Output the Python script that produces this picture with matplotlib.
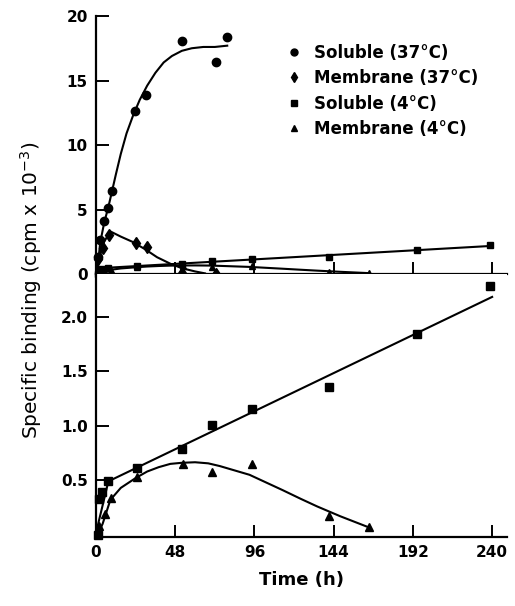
import matplotlib
matplotlib.use("Agg")
import matplotlib.pyplot as plt
from matplotlib.lines import Line2D

plt.rcParams['font.family'] = ['DejaVu Sans']

# --- data (time in h, binding in cpm x 10^-3) ---
# 37 degC, soluble (circles)
sol37_t = [1.5, 2.5, 5, 7.5, 9.5, 23.5, 30.5, 52, 73, 79.5]
sol37_v = [1.3, 2.6, 4.1, 5.1, 6.4, 12.6, 13.9, 18.1, 16.4, 18.4]
# hand-drawn curve through the soluble 37 degC points
sol37_fit_t = [1, 2.5, 5, 7.5, 9.5, 12, 15, 18.5, 22.5, 26.5, 31, 36, 41, 46, 52, 58, 65, 72, 79.5]
sol37_fit_v = [0.5, 2.4, 4.0, 5.2, 6.3, 7.7, 9.3, 10.9, 12.3, 13.5, 14.6, 15.6, 16.4, 16.9, 17.3, 17.5, 17.6, 17.6, 17.7]

# 37 degC, membrane (diamonds)
mem37_t = [1.5, 4, 8, 24.5, 31, 52, 73]
mem37_v = [1.2, 2.0, 3.0, 2.4, 2.1, 0.05, 0.0]
mem37_fit_t = [1, 4, 8.7, 15, 22, 30, 37, 45, 52, 60, 66]
mem37_fit_v = [0.5, 2.3, 3.3, 2.9, 2.5, 1.9, 1.3, 0.8, 0.45, 0.2, 0.05]

# 4 degC, soluble (squares)
sol4_t = [1, 2, 3.5, 7.5, 25, 52, 70, 94.5, 141, 194.5, 239]
sol4_v = [0.0, 0.33, 0.39, 0.49, 0.61, 0.79, 1.01, 1.15, 1.35, 1.84, 2.28]
sol4_fit_t = [1, 7.5, 240]
sol4_fit_v = [0.08, 0.49, 2.18]

# 4 degC, membrane (triangles)
mem4_t = [2, 5.5, 9.3, 25, 52.5, 70.5, 94.5, 141, 165.5]
mem4_v = [0.08, 0.19, 0.34, 0.53, 0.65, 0.58, 0.65, 0.17, 0.07]
mem4_fit_t = [1.5, 4, 8.7, 15, 24, 31, 38, 45, 52, 60, 68, 75, 84, 93, 103, 113, 124, 134, 148, 165]
mem4_fit_v = [0.02, 0.1, 0.32, 0.43, 0.52, 0.58, 0.62, 0.65, 0.66, 0.665, 0.655, 0.63, 0.59, 0.55,
              0.48, 0.41, 0.33, 0.26, 0.17, 0.07]

x_ticks = [0, 48, 96, 144, 192, 240]
top_yticks = [0, 5, 10, 15, 20]
bot_yticks = [0.5, 1.0, 1.5, 2.0]

legend_labels = ['Soluble (37°C)', 'Membrane (37°C)', 'Soluble (4°C)', 'Membrane (4°C)']

fig = plt.figure(figsize=(5.15, 6.06), dpi=100)
L, R = 96 / 515, 507 / 515
ax_top = fig.add_axes([L, 1 - 274 / 606, R - L, (274 - 16) / 606])
ax_bot = fig.add_axes([L, 1 - 537 / 606, R - L, (537 - 274) / 606])

lw = 1.5
mk = dict(color='black', linestyle='none', clip_on=False, zorder=4)

def style(ax):
    for s in ['top', 'right']:
        ax.spines[s].set_visible(False)
    for s in ['left', 'bottom']:
        ax.spines[s].set_linewidth(1.6)
    ax.set_xlim(0, 249)
    ax.set_xticks(x_ticks)
    ax.tick_params(direction='in', length=9, width=1.4, labelsize=11, pad=6)
    for t in ax.get_xticklabels() + ax.get_yticklabels():
        t.set_fontweight('bold')

# top panel: all four series at full scale
ax_top.plot(sol37_fit_t, sol37_fit_v, color='black', lw=lw)
ax_top.plot(mem37_fit_t, mem37_fit_v, color='black', lw=lw)
ax_top.plot(sol4_fit_t, sol4_fit_v, color='black', lw=lw)
ax_top.plot(mem4_fit_t, mem4_fit_v, color='black', lw=lw)
ax_top.plot(sol37_t, sol37_v, marker='o', markersize=6, **mk)
ax_top.plot(mem37_t, mem37_v, marker='d', markersize=6, **mk)
ax_top.plot(sol4_t, sol4_v, marker='s', markersize=5, **mk)
ax_top.plot(mem4_t, mem4_v, marker='^', markersize=5, **mk)
ax_top.set_ylim(0, 20)
ax_top.set_yticks(top_yticks)
style(ax_top)
ax_top.set_xticklabels([])

handles = [Line2D([], [], color='black', linestyle='none', marker=m, markersize=s)
           for m, s in [('o', 5), ('d', 5), ('s', 5), ('^', 5)]]
leg = ax_top.legend(handles, legend_labels, loc='upper left', bbox_to_anchor=(0.45, 0.925),
                    frameon=False, handlelength=0.6, handletextpad=0.9, labelspacing=0.45,
                    borderpad=0, prop={'size': 12, 'weight': 'bold'})

# bottom panel: 4 degC series magnified
ax_bot.plot(sol4_fit_t, sol4_fit_v, color='black', lw=lw)
ax_bot.plot(mem4_fit_t, mem4_fit_v, color='black', lw=lw)
ax_bot.plot(sol4_t, sol4_v, marker='s', markersize=5.5, **mk)
ax_bot.plot(mem4_t, mem4_v, marker='^', markersize=6, **mk)
ax_bot.set_ylim(-0.02, 2.39)
ax_bot.set_yticks(bot_yticks)
ax_bot.set_yticklabels(['0.5', '1.0', '1.5', '2.0'])
style(ax_bot)
ax_bot.set_xlabel('Time (h)', fontsize=13, fontweight='bold', labelpad=8)

fig.text(0.06, 1 - 290 / 606, r'Specific binding (cpm x 10$^{-3}$)', rotation=90,
         ha='center', va='center', fontsize=14.5)

fig.savefig('out.png', dpi=100)
